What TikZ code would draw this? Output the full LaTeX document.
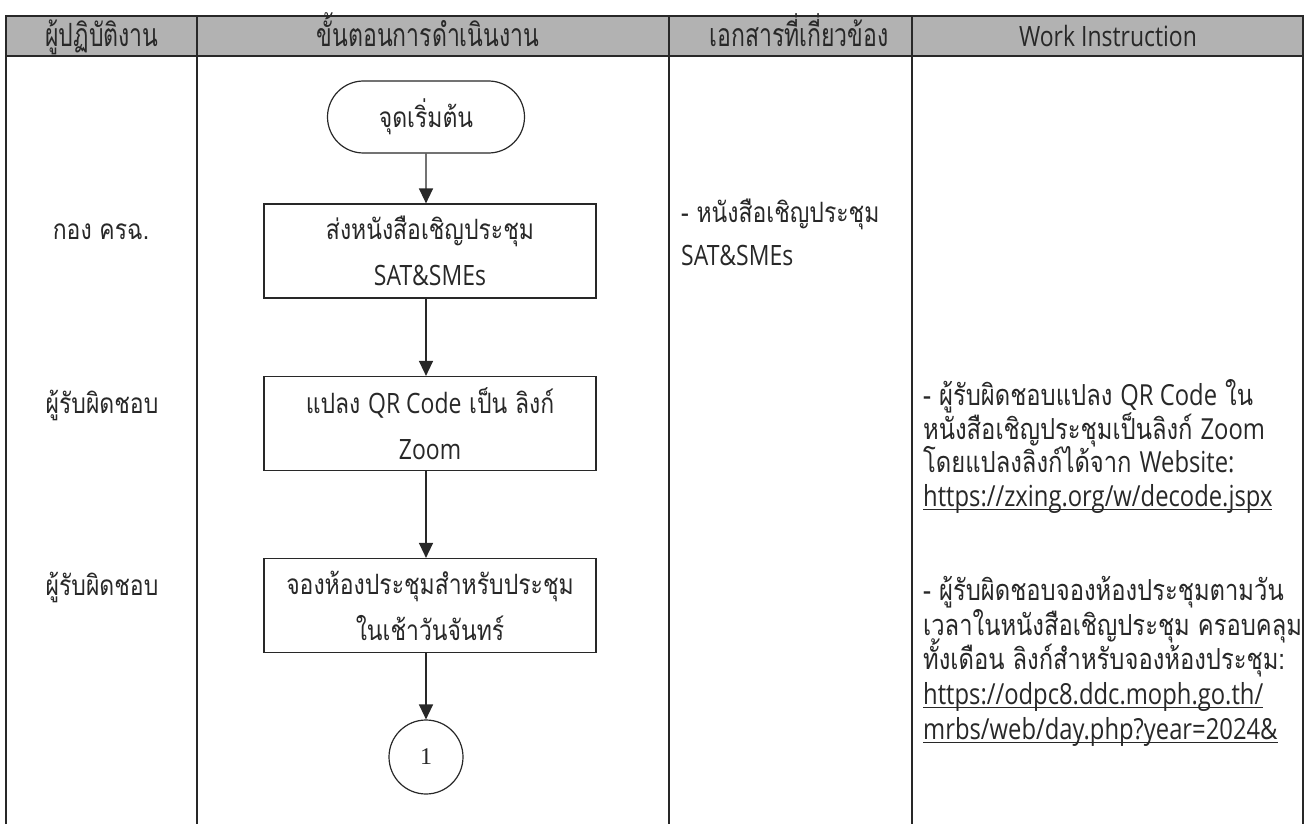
\documentclass[tikz,border=0pt]{standalone}
\usepackage{fontspec}
\usetikzlibrary{arrows.meta,shapes.misc}
\setmainfont[Script=Thai,FakeStretch=0.82]{Loma}
\newfontfamily\enf[FakeStretch=0.82]{Open Sans}
\newfontfamily\thh[Script=Thai,FakeStretch=0.72]{Loma}
\newfontfamily\numf{Liberation Serif}
\newcommand\en[1]{{\enf #1}}
\newcommand\ulink[1]{\setbox0\hbox{#1}\rlap{\rule[-4pt]{\wd0}{1.1pt}}\box0}
\definecolor{hdr}{RGB}{178,178,178}
\definecolor{ink}{RGB}{40,40,40}
\begin{document}
\begin{tikzpicture}[x=1pt,y=-1pt,
  grid/.style={draw=ink,line width=1.3pt},
  txt/.style={inner sep=0pt,text=ink,font=\fontsize{28}{34}\selectfont},
  wtxt/.style={inner sep=0pt,text=ink,anchor=base west,font=\fontsize{29}{34}\selectfont},
  ltxt/.style={txt,anchor=base west},
  ctxt/.style={txt,anchor=base},
  htxt/.style={inner sep=0pt,text=ink,anchor=base,font=\fontsize{32}{34}\selectfont\thh},
  term/.style={rounded rectangle,draw=ink,line width=1.2pt,minimum width=197pt,minimum height=72pt,inner sep=0pt,text=ink,font=\fontsize{28}{34}\selectfont},
  proc/.style={rectangle,draw=ink,line width=1.2pt,minimum width=332pt,minimum height=94pt,inner sep=0pt,align=center,text=ink,font=\fontsize{28}{46}\selectfont},
  conn/.style={circle,draw=ink,line width=1.2pt,minimum size=74pt,inner sep=0pt,text=ink,font=\fontsize{24}{28}\selectfont\numf},
  arr/.style={draw=ink,line width=1.4pt,-{Triangle[width=14pt,length=15pt]}}]
\useasboundingbox (0,0) rectangle (1308,824);
\fill[white] (0,0) rectangle (1308,824);
% table
\fill[hdr] (6,16) rectangle (1303,56);
\draw[grid] (6,824) -- (6,16) -- (1303,16) -- (1303,824);
\draw[grid] (6,56) -- (1303,56);
\foreach \x in {197,669,912} \draw[grid] (\x,16) -- (\x,824);
% header
\node[htxt] (h1) at (102,47) {ผู้ปฏิบัติงาน};
\node[htxt] (h2) at (428,47) {ขั้นตอนการดำเนินงาน};
\node[htxt] (h3) at (799,47) {เอกสารที่เกี่ยวข้อง};
\node[htxt,font=\fontsize{28}{34}\selectfont\enf] (h4) at (1108,47) {Work Instruction};
% column 1
\node[ctxt] (r1) at (101,239) {กอง ครฉ.};
\node[ctxt] (r2) at (102,413) {ผู้รับผิดชอบ};
\node[ctxt] (r3) at (102,595) {ผู้รับผิดชอบ};
% flow
\node[term] (start) at (426,117) {จุดเริ่มต้น};
\node[proc] (b1) at (430,251) {ส่งหนังสือเชิญประชุม\\\en{SAT\&SMEs}};
\node[proc] (b2) at (430,423.5) {แปลง \en{QR Code} เป็น ลิงก์\\\en{Zoom}};
\node[proc] (b3) at (430,605.5) {จองห้องประชุมสำหรับประชุม\\ในเช้าวันจันทร์};
\node[conn] (c1) at (426,757) {1};
\draw[arr] (start) -- (start |- b1.north);
\draw[arr] (b1.south -| start) -- (start |- b2.north);
\draw[arr] (b2.south -| start) -- (start |- b3.north);
\draw[arr] (b3.south -| start) -- (c1);
% column 3
\node[ltxt] (d1) at (681,222) {- หนังสือเชิญประชุม};
\node[ltxt] (d2) at (681,265) {\en{SAT\&SMEs}};
% column 4
\node[wtxt] (w1) at (923,405) {- ผู้รับผิดชอบแปลง \en{QR Code} ใน};
\node[wtxt] (w2) at (923,439) {หนังสือเชิญประชุมเป็นลิงก์ \en{Zoom}};
\node[wtxt] (w3) at (923,472) {โดยแปลงลิงก์ได้จาก \en{Website:}};
\node[wtxt] (w4) at (923,506) {\ulink{\en{https://zxing.org/w/decode.jspx}}};
\node[wtxt] (w5) at (923,600) {- ผู้รับผิดชอบจองห้องประชุมตามวัน};
\node[wtxt] (w6) at (923,635) {เวลาในหนังสือเชิญประชุม ครอบคลุม};
\node[wtxt] (w7) at (923,669) {ทั้งเดือน ลิงก์สำหรับจองห้องประชุม:};
\node[wtxt] (w8) at (923,704) {\ulink{\en{https://odpc8.ddc.moph.go.th/}}};
\node[wtxt] (w9) at (923,739) {\ulink{\en{mrbs/web/day.php?year=2024\&}}};
\end{tikzpicture}
\end{document}
